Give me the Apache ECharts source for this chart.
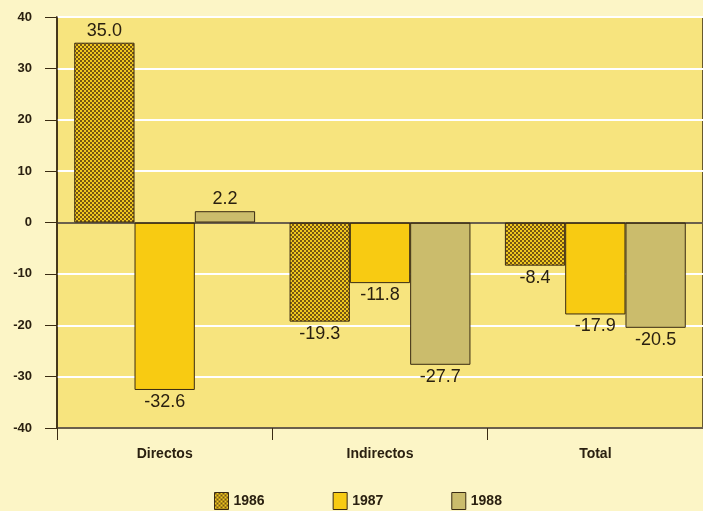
<!DOCTYPE html>
<html>
<head>
<meta charset="utf-8">
<script src="https://cdn.jsdelivr.net/npm/echarts@6/dist/echarts.min.js"></script>
<style>
  html, body { margin: 0; padding: 0; background: #fcf5c6; }
  #chart { width: 703px; height: 511px; }
</style>
</head>
<body>
<div id="chart"></div>
<script>
// Categories and yearly values (percent change)
const categories = ['Directos', 'Indirectos', 'Total'];
const years = ['1986', '1987', '1988'];
const values1986 = [35.0, -19.3, -8.4];
const values1987 = [-32.6, -11.8, -17.9];
const values1988 = [2.2, -27.7, -20.5];
const yTicks = [-40, -30, -20, -10, 0, 10, 20, 30, 40];

const DARK = '#3a2b12';
const FONT = '"Liberation Sans", Arial, Helvetica, sans-serif';

// Dotted screen fill for the 1986 bars
function dotPattern() {
  const c = document.createElement('canvas');
  c.width = 4; c.height = 4;
  const g = c.getContext('2d');
  g.fillStyle = '#f0c81e';
  g.fillRect(0, 0, 4, 4);
  g.fillStyle = '#765614';
  g.fillRect(0, 0, 2, 2);
  g.fillRect(2, 2, 2, 2);
  return c;
}
const patternFill = { image: dotPattern(), repeat: 'repeat' };

function barData(vals) {
  return vals.map(v => ({
    value: v,
    label: { position: v >= 0 ? 'top' : 'bottom' }
  }));
}

const seriesColors = [patternFill, '#f8cb12', '#cbbc6c'];
const seriesValues = [values1986, values1987, values1988];

const series = years.map((y, i) => ({
  name: y,
  type: 'bar',
  barGap: '0%',
  barCategoryGap: '16%',
  data: barData(seriesValues[i]),
  itemStyle: { color: seriesColors[i], borderColor: DARK, borderWidth: 1 },
  label: {
    show: true,
    distance: 3,
    color: '#2a2010',
    fontFamily: FONT,
    fontSize: 18,
    formatter: p => p.value.toFixed(1)
  },
  markLine: i === 0 ? {
    silent: true,
    symbol: 'none',
    label: { show: false },
    lineStyle: { color: DARK, width: 1.5, type: 'solid' },
    data: [{ yAxis: 0 }]
  } : undefined,
  z: 3
}));

const chart = echarts.init(document.getElementById('chart'));
chart.setOption({
  backgroundColor: '#fcf5c6',
  animation: false,
  grid: {
    left: 57, top: 17, width: 651, height: 411,
    show: true,
    backgroundColor: '#f7e47e',
    borderColor: DARK,
    borderWidth: 1.5
  },
  legend: {
    data: years.map(n => ({ name: n, icon: 'rect' })),
    left: 209, top: 487,
    itemWidth: 14, itemHeight: 17,
    itemGap: 68,
    textStyle: { fontFamily: FONT, fontSize: 14, fontWeight: 'bold', color: '#2a2010' },
    itemStyle: { borderColor: DARK, borderWidth: 1 }
  },
  xAxis: {
    type: 'category',
    data: categories,
    axisLine: { onZero: false, lineStyle: { color: DARK, width: 1.5 } },
    axisTick: { show: true, length: 12, lineStyle: { color: DARK, width: 1 } },
    axisLabel: { margin: 19, fontFamily: FONT, fontSize: 14, fontWeight: 'bold', color: '#2a2010' },
    splitLine: { show: false }
  },
  yAxis: {
    type: 'value',
    min: yTicks[0], max: yTicks[yTicks.length - 1], interval: 10,
    axisLine: { show: true, lineStyle: { color: DARK, width: 1.5 } },
    axisTick: { show: true, length: 12, lineStyle: { color: DARK, width: 1 } },
    axisLabel: { margin: 25, fontFamily: FONT, fontSize: 13, fontWeight: 'bold', color: '#2a2010' },
    splitLine: { show: true, lineStyle: { color: '#ffffff', width: 2 } }
  },
  series: series
});
</script>
</body>
</html>
